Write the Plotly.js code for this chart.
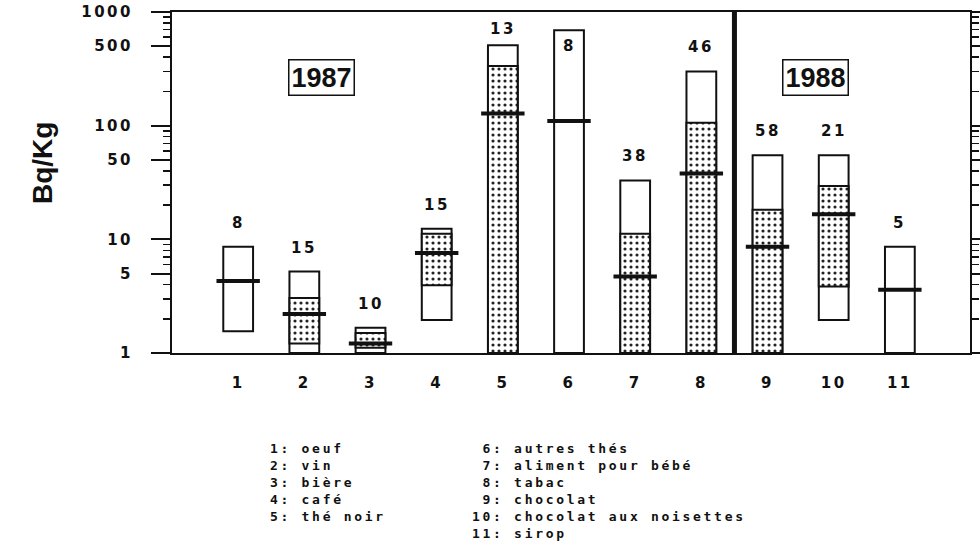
<!DOCTYPE html>
<html><head><meta charset="utf-8">
<script src="https://cdn.plot.ly/plotly-3.0.1.min.js"></script>
<style>html,body{margin:0;padding:0;background:#fff}#chart{width:980px;height:558px}
.xtick text,.ytick text{letter-spacing:2.5px}</style>
</head><body><div id="chart"></div>
<script>
// ---- data ----
const categories = [1,2,3,4,5,6,7,8,9,10,11];
const tickLabels = ['1','2','3','4','5','6','7','8','9','10','11'];
const productNames = ['oeuf','vin','bière','café','thé noir','autres thés','aliment pour bébé','tabac','chocolat','chocolat aux noisettes','sirop'];
const sampleCounts = [8,15,10,15,13,8,38,46,58,21,5];
const maxValues    = [8.6, 5.2, 1.67, 12.4, 510, 690, 33, 300, 55, 55, 8.6];
const minValues    = [1.55, 1, 1, 1.95, 1, 1, 1, 1, 1, 1.95, 1];      // 1 = at/below axis floor
const upperQuart   = [null, 3.05, 1.5, 11.2, 335, null, 11.2, 106, 18.2, 29.5, null];
const lowerQuart   = [null, 1.21, 1.11, 3.95, 1, null, 1, 1, 1, 3.85, null];
const medianValues = [4.3, 2.2, 1.21, 7.6, 128, 110, 4.7, 38, 8.6, 16.6, 3.6];
const yTickVals = [1,5,10,50,100,500,1000];
const yTickText = ['1','5','10','50','100','500','1000'];
const yearLabels = ['1987','1988'];
const yearSplit = 8.5;
const yTitle = 'Bq/Kg';

// ---- geometry helpers (pixels of the reference) ----
const W = 980, H = 558;
const M = {l:172, r:10, t:12, b:205};
const plotW = W - M.l - M.r, plotH = H - M.t - M.b;
const px2paperX = x => (x - M.l) / plotW;
const px2paperY = y => (H - M.b - y) / plotH;
const spaced = (s, px) => '<span style="letter-spacing:' + px + 'px">' + s + '</span>';

const ink = '#111';
const tickFont = {family:'DejaVu Sans, sans-serif', size:15, color:ink, weight:700};
const monoFont = {family:'DejaVu Sans Mono, Liberation Mono, monospace', size:13, color:ink, weight:700};
const narrowFont = {family:'Liberation Sans, Arial, sans-serif', color:ink, weight:700};

const outer = {
  type:'bar', x:categories, base:minValues,
  y:maxValues.map((v,i)=>v-minValues[i]),
  width:0.45, marker:{color:'#fff', line:{color:ink, width:2}},
  hoverinfo:'skip'
};
const qi = categories.map((c,i)=>i).filter(i=>upperQuart[i]!==null);
const dotted = {
  type:'bar', x:qi.map(i=>categories[i]), base:qi.map(i=>lowerQuart[i]),
  y:qi.map(i=>upperQuart[i]-lowerQuart[i]),
  width:0.45,
  marker:{color:'#fff', line:{color:ink, width:2},
    pattern:{shape:'.', fgcolor:'#222', bgcolor:'#fff', size:6, solidity:0.22, fillmode:'replace'}},
  hoverinfo:'skip'
};
const medians = {
  type:'scatter', mode:'markers', x:categories, y:medianValues,
  marker:{symbol:'line-ew', size:31, color:ink, line:{color:ink, width:4}},
  hoverinfo:'skip', cliponaxis:false
};

const minorVals = [];
for (let d=1; d<1000; d*=10) for (let k=2;k<=9;k++) if (k!==5) minorVals.push(k*d);

const annotations = [];
sampleCounts.forEach((n,i)=>{
  const v = maxValues[i];
  const shift = v > 600 ? -16 : (v > 400 ? 16 : 24);
  annotations.push({x:categories[i], y:Math.log10(v), xref:'x', yref:'y', text:spaced(String(n),2.5),
    showarrow:false, yshift:shift, font:tickFont});
});
[[287.5,59],[849,59]].forEach((p,i)=>{
  annotations.push({xref:'paper', yref:'paper', x:px2paperX(p[0]), y:px2paperY(p[1]),
    text:yearLabels[i], showarrow:false, font:Object.assign({size:27}, narrowFont),
    bordercolor:ink, borderwidth:1.5, borderpad:0, width:64, height:34, bgcolor:'#fff'});
});
annotations.push({xref:'paper', yref:'paper', x:px2paperX(24.5), y:px2paperY(163),
  text:yTitle, textangle:-90, showarrow:false, font:Object.assign({size:28}, narrowFont)});
// legend listing: two columns, one multi-line text each
const colLines = [[],[]];
productNames.forEach((name,i)=>{
  const col = i < 5 ? 0 : 1;
  const num = String(categories[i]);
  const label = (col===1 && num.length<2 ? ' ' : '') + num + ': ' + name;
  colLines[col].push(spaced(label, 2.7));
});
[268, 470].forEach((x,c)=>{
  annotations.push({xref:'paper', yref:'paper', x:px2paperX(x), y:px2paperY(439),
    xanchor:'left', yanchor:'top', align:'left', text:colLines[c].join('<br>'),
    showarrow:false, font:monoFont});
});

const layout = {
  width:W, height:H, margin:M, showlegend:false, barmode:'overlay',
  paper_bgcolor:'#fff', plot_bgcolor:'#fff',
  xaxis:{range:[0,12.06], tickvals:categories, ticktext:tickLabels, ticks:'',
    showline:true, mirror:true, linecolor:ink, linewidth:2, showgrid:false, zeroline:false,
    tickfont:tickFont, ticklabelstandoff:15, fixedrange:true},
  yaxis:{type:'log', range:[0,3], tickvals:yTickVals, ticktext:yTickText,
    ticks:'outside', ticklen:19, tickwidth:2, tickcolor:ink,
    showline:true, mirror:'allticks', linecolor:ink, linewidth:2, showgrid:false, zeroline:false,
    minor:{tickvals:minorVals, ticks:'outside', ticklen:7, tickwidth:1.5, tickcolor:ink, showgrid:false},
    tickfont:tickFont, ticklabelstandoff:15, fixedrange:true},
  shapes:[{type:'line', xref:'x', yref:'paper', x0:yearSplit, x1:yearSplit, y0:0, y1:1,
    line:{color:ink, width:5}}],
  annotations:annotations
};
Plotly.newPlot('chart', [outer, dotted, medians], layout, {staticPlot:true, displayModeBar:false});
</script>
</body></html>
